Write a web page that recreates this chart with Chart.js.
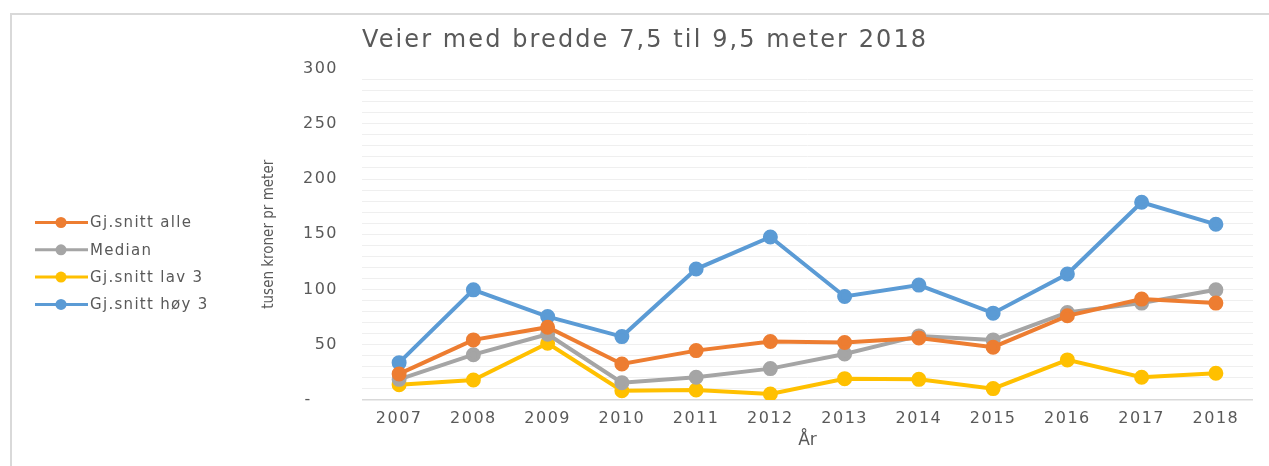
<!DOCTYPE html>
<html>
<head>
<meta charset="utf-8">
<script src="https://cdn.jsdelivr.net/npm/chart.js@4.4.1/dist/chart.umd.min.js"></script>
<style>
  html, body { margin: 0; padding: 0; background: #ffffff; overflow: hidden; }
  #wrap { position: relative; width: 1269px; height: 466px; }
  #frame { position: absolute; left: 10px; top: 13px; right: -5px; bottom: -5px;
           border-top: 2px solid #d9d9d9; border-left: 2px solid #d9d9d9; }
  canvas { position: absolute; left: 0; top: 0; }
</style>
</head>
<body>
<div id="wrap">
  <div id="frame"></div>
  <canvas id="c" width="1269" height="466"></canvas>
</div>
<script>
const years = ['2007','2008','2009','2010','2011','2012','2013','2014','2015','2016','2017','2018'];
const seriesNames = ['Gj.snitt alle', 'Median', 'Gj.snitt lav 3', 'Gj.snitt høy 3'];
const gjsnittAlle = [23.6, 54.4, 65.9, 32.6, 44.7, 52.9, 52.0, 56.2, 47.8, 76.2, 91.3, 87.7];
const median      = [18.7, 41.0, 59.5, 15.7, 20.6, 28.4, 41.7, 58.0, 54.4, 79.2, 87.7, 99.7];
const gjsnittLav3 = [13.9, 18.1, 51.4,  8.4,  9.0,  5.4, 19.3, 18.7, 10.3, 36.3, 20.6, 24.2];
const gjsnittHoy3 = [33.8, 99.7, 75.5, 57.4, 118.5, 147.5, 93.7, 104.0, 78.6, 114.0, 178.9, 159.0];
const seriesColors = ['#ED7D31', '#A5A5A5', '#FFC000', '#5B9BD5'];
const titleText = 'Veier med bredde 7,5 til 9,5 meter 2018';
const yTitle = 'tusen kroner pr meter';
const xTitle = 'År';
const yMin = 0, yMax = 300, yStep = 10, yLabelStep = 50;

const txt = '#595959';
const font = 'DejaVu Sans';

function ds(label, data, color) {
  return {
    label, data,
    borderColor: color, backgroundColor: color,
    pointBackgroundColor: color, pointBorderColor: color,
    borderWidth: 4, pointRadius: 5.5, pointHoverRadius: 5.5,
    tension: 0, fill: false
  };
}

function withSpacing(ctx, sp, fn) {
  const prev = ctx.letterSpacing;
  ctx.letterSpacing = sp;
  try { fn(); } finally { ctx.letterSpacing = prev !== undefined ? prev : '0px'; }
}

const spacingPlugin = {
  id: 'spacing',
  afterLayout(chart) {
    const ctx = chart.ctx;
    const tb = chart.titleBlock;
    if (tb && !tb._sp) {
      const o = tb.draw.bind(tb);
      tb.draw = function () { withSpacing(ctx, '2.1px', o); };
      tb._sp = true;
    }
    ['x', 'y'].forEach(id => {
      const s = chart.scales[id];
      if (s && !s._sp) {
        const ol = s.drawLabels.bind(s);
        s.drawLabels = function (a) { withSpacing(ctx, '1.5px', () => ol(a)); };
        s._sp = true;
      }
    });
  }
};

const legendPlugin = {
  id: 'sideLegend',
  afterDraw(chart) {
    const ctx = chart.ctx;
    ctx.save();
    chart.data.datasets.forEach((d, i) => {
      const y = 222.5 + 27.3 * i;
      ctx.strokeStyle = d.borderColor;
      ctx.lineWidth = 3;
      ctx.beginPath(); ctx.moveTo(35, y); ctx.lineTo(88, y); ctx.stroke();
      ctx.fillStyle = d.borderColor;
      ctx.beginPath(); ctx.arc(61, y, 5.5, 0, Math.PI * 2); ctx.fill();
      ctx.fillStyle = txt;
      ctx.font = '15px "' + font + '"';
      ctx.textBaseline = 'middle';
      ctx.textAlign = 'left';
      withSpacing(ctx, '1.3px', () => ctx.fillText(d.label, 90, y + 1));
    });
    ctx.restore();
  }
};

new Chart(document.getElementById('c'), {
  type: 'line',
  data: {
    labels: years,
    datasets: [
      ds(seriesNames[0], gjsnittAlle, seriesColors[0]),
      ds(seriesNames[1], median, seriesColors[1]),
      ds(seriesNames[2], gjsnittLav3, seriesColors[2]),
      ds(seriesNames[3], gjsnittHoy3, seriesColors[3])
    ]
  },
  options: {
    responsive: false,
    animation: false,
    layout: { padding: { left: 260, right: 16, top: 0, bottom: 0 } },
    plugins: {
      legend: { display: false },
      tooltip: { enabled: false },
      title: {
        display: true, text: titleText, align: 'start', fullSize: false,
        color: txt, font: { family: font, size: 24, weight: 'normal' },
        padding: { top: 26, bottom: 13.7 }
      }
    },
    scales: {
      x: {
        offset: true,
        grid: { display: false, drawTicks: false },
        border: { display: false },
        ticks: { color: txt, font: { family: font, size: 16 }, padding: 9, maxRotation: 0 },
        title: { display: true, text: xTitle, color: txt, font: { family: font, size: 17 }, padding: { top: 0, bottom: 15 } },
        afterFit(s) { s.height = 66; }
      },
      y: {
        min: yMin, max: yMax,
        grid: {
          drawTicks: false,
          color: c => c.tick && c.tick.value === yMax ? 'rgba(0,0,0,0)' : (c.tick && c.tick.value === 0 ? '#d9d9d9' : '#efefef'),
          lineWidth: c => c.tick && c.tick.value === 0 ? 1.5 : 1
        },
        border: { display: false },
        ticks: {
          stepSize: yStep, autoSkip: false, padding: 24, color: txt,
          font: { family: font, size: 16 },
          callback: v => v === 0 ? '-    ' : (v % yLabelStep === 0 ? String(v) : '')
        },
        title: { display: true, text: yTitle, color: txt,
          font: { family: '"DejaVu Sans Condensed", "Liberation Sans Narrow", "DejaVu Sans"', size: 15 },
          padding: { top: 0, bottom: 0 } },
        afterFit(s) { s.width = 102; }
      }
    }
  },
  plugins: [spacingPlugin, legendPlugin]
});
</script>
</body>
</html>
